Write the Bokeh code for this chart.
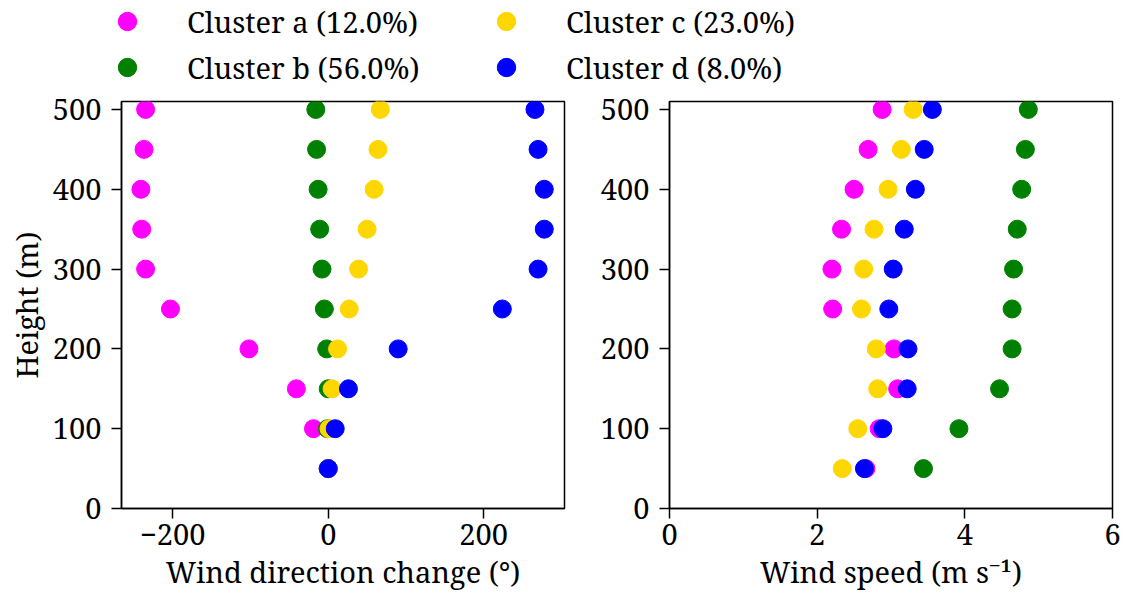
from bokeh.plotting import figure
from bokeh.layouts import column, row
from bokeh.models import ColumnDataSource, Range1d, FixedTicker, Legend, LegendItem
from bokeh.embed import file_html
from bokeh.resources import INLINE

# Height levels (m)
heights = [50, 100, 150, 200, 250, 300, 350, 400, 450, 500]

# Wind direction change (degrees) relative to the lowest level
dir_a = [0, -19, -41, -102, -203, -235, -240, -241, -237, -235]
dir_b = [0, -1, 0, -2, -5, -8, -11, -13, -15, -16]
dir_c = [0, 1, 5, 12, 27, 39, 50, 59, 64, 67]
dir_d = [0, 9, 26, 90, 224, 270, 278, 278, 270, 266]

# Wind speed (m/s)
speed_a = [2.66, 2.84, 3.09, 3.04, 2.21, 2.20, 2.33, 2.50, 2.69, 2.88]
speed_b = [3.44, 3.92, 4.47, 4.64, 4.64, 4.66, 4.71, 4.77, 4.82, 4.86]
speed_c = [2.34, 2.55, 2.82, 2.80, 2.60, 2.63, 2.77, 2.96, 3.14, 3.30]
speed_d = [2.64, 2.89, 3.22, 3.23, 2.97, 3.03, 3.18, 3.33, 3.45, 3.56]

cluster_labels = ["Cluster a (12.0%)", "Cluster b (56.0%)",
                  "Cluster c (23.0%)", "Cluster d (8.0%)"]
cluster_colors = ["#FF00FF", "#008000", "#FFD700", "#0000FF"]

y_ticks = [0, 100, 200, 300, 400, 500]
dir_ticks = [-200, 0, 200]
speed_ticks = [0, 2, 4, 6]

FONT = "Noto Serif"
FS = "29px"
MARKER = 18

sources = [
    ColumnDataSource(dict(height=heights, direction=d, speed=s))
    for d, s in [(dir_a, speed_a), (dir_b, speed_b), (dir_c, speed_c), (dir_d, speed_d)]
]


def style_axes(p):
    p.grid.visible = False
    p.outline_line_color = "black"
    p.outline_line_width = 1.5
    p.background_fill_color = "white"
    p.border_fill_color = "white"
    for ax in (p.xaxis[0], p.yaxis[0]):
        ax.axis_line_color = "black"
        ax.axis_line_width = 1.5
        ax.major_tick_line_color = "black"
        ax.major_tick_line_width = 1.5
        ax.major_tick_out = 10
        ax.major_tick_in = 0
        ax.minor_tick_line_color = None
        ax.major_label_text_font = FONT
        ax.major_label_text_font_size = FS
        ax.major_label_text_color = "black"
        ax.axis_label_text_font = FONT
        ax.axis_label_text_font_size = FS
        ax.axis_label_text_font_style = "normal"
        ax.axis_label_text_color = "black"
    p.xaxis.major_label_standoff = 5
    p.xaxis.axis_label_standoff = 4
    p.yaxis.major_label_standoff = 10
    p.yaxis.axis_label_standoff = 4
    p.yaxis.ticker = FixedTicker(ticks=y_ticks)


# Left panel: wind direction change
p1 = figure(width=597, height=515, output_backend="svg", toolbar_location=None,
            x_range=Range1d(-266, 304), y_range=Range1d(0, 510),
            min_border_left=121, min_border_right=33,
            min_border_top=11, min_border_bottom=97)
style_axes(p1)
p1.xaxis.ticker = FixedTicker(ticks=dir_ticks)
p1.xaxis.major_label_overrides = {-200: "\u2212200"}
p1.xaxis.axis_label = "Wind direction change (\u00b0)"
p1.yaxis.axis_label = "Height (m)"

# Right panel: wind speed
p2 = figure(width=534, height=515, output_backend="svg", toolbar_location=None,
            x_range=Range1d(0, 6), y_range=Range1d(0, 510),
            min_border_left=71, min_border_right=19,
            min_border_top=11, min_border_bottom=97)
style_axes(p2)
p2.xaxis.ticker = FixedTicker(ticks=speed_ticks)
p2.xaxis.axis_label = "Wind speed (m s\u207b\u00b9)"

for src, col in zip(sources, cluster_colors):
    p1.scatter("direction", "height", source=src, size=MARKER,
               fill_color=col, line_color=col, line_width=1)
    p2.scatter("speed", "height", source=src, size=MARKER,
               fill_color=col, line_color=col, line_width=1)

# Legend strip across the top
pl = figure(width=1131, height=90, output_backend="svg", toolbar_location=None,
            x_range=Range1d(-100, -99), y_range=Range1d(-100, -99),
            min_border=0)
pl.axis.visible = False
pl.grid.visible = False
pl.outline_line_color = None

items = []
for src, col, lab in zip(sources, cluster_colors, cluster_labels):
    r = pl.scatter("speed", "height", source=src, size=MARKER,
                   fill_color=col, line_color=col)
    items.append(LegendItem(label=lab, renderers=[r]))

legend = Legend(items=items, ncols=2, location=(104, 0),
                glyph_width=46, glyph_height=46, label_standoff=37,
                label_width=296, spacing=0, padding=0, margin=0,
                border_line_color=None, background_fill_alpha=0,
                label_text_font=FONT, label_text_font_size=FS,
                label_text_color="black")
pl.add_layout(legend, "center")

layout = column(pl, row(p1, p2), spacing=0)

open("out.html", "w").write(file_html(layout, INLINE))
